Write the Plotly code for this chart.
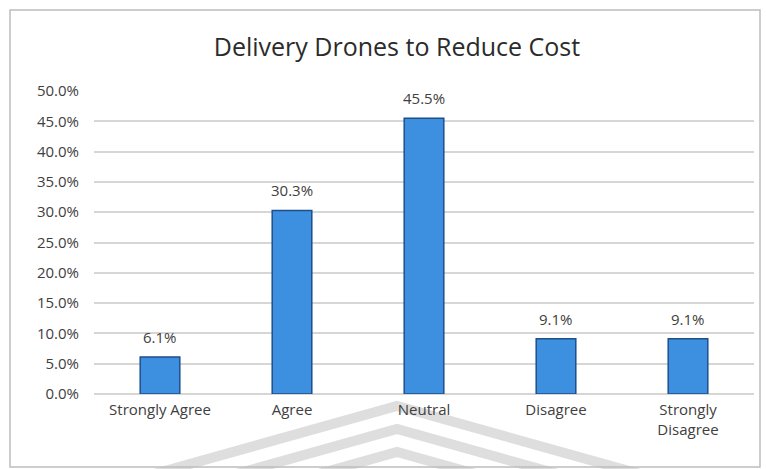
import plotly.graph_objects as go

# Survey responses: share of respondents per answer
categories = ["Strongly Agree", "Agree", "Neutral", "Disagree", "Strongly<br>Disagree"]
shares = [0.061, 0.303, 0.455, 0.091, 0.091]
y_ticks = [0.0, 0.05, 0.10, 0.15, 0.20, 0.25, 0.30, 0.35, 0.40, 0.45, 0.50]

W, H = 766, 469
L, R, T, B = 94, 12, 91, 75
PW, PH = W - L - R, H - T - B

def px(x):
    return (x - L) / PW

def py(y):
    return (H - B - y) / PH

FONT = "Open Sans"
TEXT = "#404040"

fig = go.Figure()
fig.add_trace(go.Bar(
    x=categories,
    y=shares,
    width=0.3,
    marker=dict(color="#3D8FE0", line=dict(color="#1F4E8C", width=1.5)),
    hoverinfo="skip",
))

# value labels above each bar
for c, v in zip(categories, shares):
    fig.add_annotation(
        x=c, y=v, text=f"{v*100:.1f}%", showarrow=False,
        yanchor="bottom", yshift=8,
        font=dict(family=FONT, size=15, color=TEXT),
    )

shapes = []
# faint background chevrons at the bottom of the frame
band = "rgba(200,200,200,0.6)"
slope = 0.28
for apex_y in (406, 429, 452):
    run = (485 - apex_y) / slope
    shapes.append(dict(
        type="path", xref="paper", yref="paper", layer="below",
        path=(f"M {px(397 - run)},{py(485)} "
              f"L {px(397)},{py(apex_y)} L {px(397 + run)},{py(485)}"),
        line=dict(color=band, width=10),
    ))
# outer frame
shapes.append(dict(
    type="rect", xref="paper", yref="paper", layer="below",
    x0=px(10), x1=px(760), y0=py(467), y1=py(10),
    line=dict(color="#BDBDBD", width=1.5), fillcolor="rgba(0,0,0,0)",
))

fig.update_layout(
    width=W, height=H,
    margin=dict(l=L, r=R, t=T, b=B),
    paper_bgcolor="white", plot_bgcolor="white",
    showlegend=False,
    title=dict(
        text="Delivery Drones to Reduce Cost",
        xref="paper", x=px(397), xanchor="center",
        y=1 - 47 / H, yanchor="middle",
        font=dict(family=FONT, size=25, color="#2B2B2B"),
    ),
    xaxis=dict(
        showgrid=False, zeroline=False, showline=False, ticks="",
        tickfont=dict(family=FONT, size=15, color=TEXT),
        ticklabelstandoff=5,
    ),
    yaxis=dict(
        range=[0, 0.5], tickvals=y_ticks, tickformat=".1%",
        showgrid=True, gridcolor="#D6D6D6", gridwidth=1.5,
        zeroline=True, zerolinecolor="#D6D6D6", zerolinewidth=1.5,
        showline=False, ticks="",
        tickfont=dict(family=FONT, size=15, color=TEXT),
        ticklabelstandoff=14,
    ),
    shapes=shapes,
)

fig.write_html("out.html")
